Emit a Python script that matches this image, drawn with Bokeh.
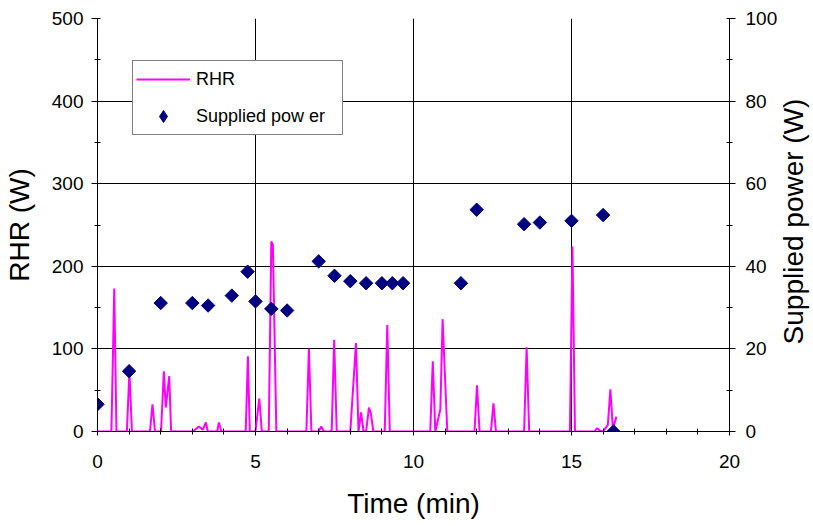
import numpy as np
from bokeh.plotting import figure
from bokeh.models import Range1d, LinearAxis, FixedTicker, Legend, LegendItem, Label
from bokeh.embed import file_html
from bokeh.resources import INLINE

# RHR series (time in min, RHR in W)
rhr_time = [0, 0.44, 0.53, 0.6, 0.93, 1.01, 1.09, 1.66, 1.74, 1.82, 2.01, 2.1, 2.16, 2.27, 2.33,
            3.02, 3.21, 3.33, 3.43, 3.49, 3.79, 3.84, 3.92, 4.69, 4.76, 4.82, 5.0, 5.12, 5.2,
            5.42, 5.5, 5.55, 5.66, 6.61, 6.69, 6.77, 7.0, 7.08, 7.16, 7.41, 7.49, 7.57, 8.0,
            8.18, 8.26, 8.34, 8.42, 8.5, 8.59, 8.65, 8.73, 9.09, 9.17, 9.25, 10.53, 10.61,
            10.69, 10.85, 10.92, 11.07, 11.93, 12.01, 12.09, 12.45, 12.53, 12.61, 13.5, 13.58,
            13.66, 14.95, 15.03, 15.11, 15.73, 15.81, 15.9, 16.0, 16.15, 16.23, 16.31, 16.42]
rhr_value = [0, 0, 173, 0, 0, 73, 0, 0, 33, 0, 0, 73, 29, 67, 0,
             0, 6, 2, 11, 0, 0, 11, 0, 0, 91, 0, 0, 40, 0,
             0, 230, 226, 0, 0, 100, 0, 0, 6, 0, 0, 111, 0, 0,
             107, 0, 23, 0, 0, 29, 22, 0, 0, 129, 0, 0, 85,
             0, 27, 136, 0, 0, 56, 0, 0, 34, 0, 0, 102,
             0, 0, 224, 0, 0, 4, 1, 0, 8, 51, 3, 18]

# Supplied power (time in min, power in W)
power_time = [0, 1, 2, 3, 3.5, 4.25, 4.75, 5, 5.5, 6, 7, 7.5, 8, 8.5, 9, 9.33, 9.67,
              11.5, 12, 13.5, 14, 15, 16, 16.33]
power_value = [6.6, 14.6, 31.1, 31.1, 30.5, 32.9, 38.7, 31.5, 29.7, 29.3, 41.2, 37.7, 36.4,
               35.9, 35.9, 35.9, 35.9, 35.9, 53.7, 50.2, 50.6, 51.0, 52.4, 0]

x_ticks = [0, 5, 10, 15, 20]
x_minor = list(range(0, 21))
rhr_ticks = [0, 100, 200, 300, 400, 500]
rhr_minor = list(range(0, 501, 50))
pow_ticks = [0, 20, 40, 60, 80, 100]
pow_minor = list(range(0, 101, 10))

FONT = "Liberation Sans"

p = figure(width=813, height=526, output_backend="svg", toolbar_location=None,
           x_range=Range1d(0, 20), y_range=Range1d(0, 500),
           min_border_left=97, min_border_right=84, min_border_top=18, min_border_bottom=95,
           x_axis_label="Time (min)", y_axis_label="RHR (W)")
p.extra_y_ranges = {"power": Range1d(0, 100)}
p.outline_line_color = None
p.background_fill_color = "white"
p.border_fill_color = "white"

p.xaxis.ticker = FixedTicker(ticks=x_ticks, minor_ticks=x_minor)
p.yaxis.ticker = FixedTicker(ticks=rhr_ticks, minor_ticks=rhr_minor)

right = LinearAxis(y_range_name="power",
                   ticker=FixedTicker(ticks=pow_ticks, minor_ticks=pow_minor))
p.add_layout(right, "right")

for ax in [p.xaxis[0], p.yaxis[0], right]:
    ax.axis_line_color = "black"
    ax.axis_line_width = 1
    ax.major_tick_line_color = "black"
    ax.minor_tick_line_color = "black"
    ax.major_label_text_font = FONT
    ax.major_label_text_font_size = "19px"
    ax.major_label_text_color = "black"
    ax.axis_label_text_font = FONT
    ax.axis_label_text_font_size = "28px"
    ax.axis_label_text_font_style = "normal"
    ax.axis_label_text_color = "black"
    ax.minor_tick_in = 3
    ax.minor_tick_out = 3

xa = p.xaxis[0]
xa.major_tick_in = 4
xa.major_tick_out = 4
xa.major_label_standoff = 19
xa.axis_label_standoff = 17

ya = p.yaxis[0]
ya.major_tick_in = 0
ya.major_tick_out = 6
ya.major_label_standoff = 8
ya.axis_label_standoff = 14

right.major_tick_in = 0
right.major_tick_out = 6
right.major_label_standoff = 10

# right-hand axis title, reading bottom-to-top like the reference (side panel, not clipped)
right_title = Label(x=13, y=210, x_units="screen", y_units="screen",
                    text="Supplied power (W)", angle=np.pi / 2,
                    text_align="center", text_baseline="middle",
                    text_font=FONT, text_font_size="28px", text_color="black")
p.add_layout(right_title, "right")

p.xgrid.grid_line_color = "black"
p.xgrid.grid_line_width = 1
p.ygrid.grid_line_color = "black"
p.ygrid.grid_line_width = 1

rhr_r = p.line(rhr_time, rhr_value, line_color="#FF00FF", line_width=2)
pow_r = p.scatter(power_time, power_value, y_range_name="power", marker="square",
                  angle=np.pi / 4, size=9.5, fill_color="#000080", line_color="#000080")
# legend swatch for the diamonds (legend glyphs ignore marker angle); never drawn itself
pow_key = p.scatter(power_time, power_value, y_range_name="power", marker="diamond",
                    fill_color="#000080", line_color="#000080", visible=False)

legend = Legend(items=[LegendItem(label="RHR", renderers=[rhr_r]),
                       LegendItem(label="Supplied pow er", renderers=[pow_key])],
                location=(35, 296))
legend.border_line_color = "black"
legend.border_line_width = 1
legend.background_fill_color = "white"
legend.background_fill_alpha = 1
legend.inactive_fill_alpha = 0
legend.label_text_font = FONT
legend.label_text_font_size = "18px"
legend.label_text_color = "black"
legend.padding = 3
legend.spacing = 7
legend.glyph_width = 54
legend.glyph_height = 30
legend.label_height = 30
legend.label_standoff = 6
legend.label_width = 143
legend.margin = 0
p.add_layout(legend, "center")

open("out.html", "w").write(file_html(p, INLINE))
